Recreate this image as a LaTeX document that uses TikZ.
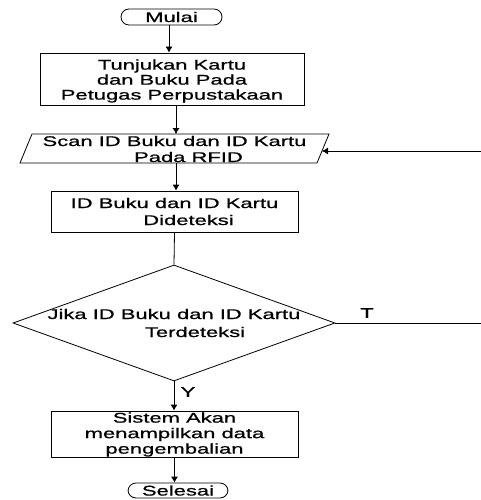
\documentclass[tikz,border=0pt]{standalone}
\usepackage{fontspec}
\setmainfont[FakeStretch=1.57,FakeBold=0.8]{Liberation Sans}
\usetikzlibrary{shapes.geometric,arrows.meta}
\begin{document}
\begin{tikzpicture}[x=1pt,y=-1pt,
  every node/.style={font=\fontsize{14}{15.5}\selectfont, align=center},
  line/.style={draw, line width=0.8pt},
  arr/.style={line, -{Latex[length=6pt,width=7pt]}},
  term/.style={draw, line width=0.8pt, rounded corners=8pt, inner sep=0pt},
  procbox/.style={draw, line width=0.8pt, inner sep=0pt},
  lbl/.style={font=\fontsize{14}{15}\selectfont}]
\useasboundingbox (0,0) rectangle (480,500);

\node[term, minimum width=101pt, minimum height=16pt] (m) at (171.5,17) {Mulai};
\node[procbox, minimum width=264pt, minimum height=52pt] (b1) at (172,79) {};
\node[font=\fontsize{14}{15}\selectfont] (b1t) at (172,81)
  {Tunjukan Kartu\\dan Buku Pada\\Petugas Perpustakaan};

% parallelogram (input)
\coordinate (pTL) at (32,134);
\coordinate (pTR) at (329,134);
\coordinate (pBR) at (317,163);
\coordinate (pBL) at (20,163);
\coordinate (pN) at (176,134);
\coordinate (pS) at (176,163);
\coordinate (pE) at (322,151);
\draw[line] (pTL) -- (pTR) -- (pBR) -- (pBL) -- cycle;
\node[font=\fontsize{14}{16}\selectfont] (p) at (174.5,149)
  {Scan ID Buku dan ID Kartu\\\hspace*{28pt}Pada RFID};

\node[procbox, minimum width=247pt, minimum height=41pt] (b2) at (174.5,211.5)
  {};
\node[font=\fontsize{14}{17}\selectfont] (b2t) at (b2.center)
  {ID Buku dan ID Kartu\\\hspace*{28pt}Dideteksi};
\node[draw, line width=0.8pt, diamond, aspect=2.78, minimum width=322pt, minimum height=116pt,
  inner sep=0pt] (d) at (174,323) {};
\node[font=\fontsize{14}{18}\selectfont] (dt) at (d.center)
  {Jika ID Buku dan ID Kartu\\\hspace*{42pt}Terdeteksi};
\node[procbox, minimum width=247pt, minimum height=46pt] (b3) at (174.5,434) {};
\node[font=\fontsize{14}{15.5}\selectfont] (b3t) at (174.5,434.5)
  {Sistem Akan\\menampilkan data\\pengembalian};
\node[term, minimum width=100pt, minimum height=15pt] (s) at (178,490.5) {Selesai};

\coordinate (r1) at (484,323);

\draw[arr] (m.south -| 169,0) -- (169,0 |- b1.north);
\draw[arr] (pN |- b1.south) -- (pN);
\draw[arr] (pS) -- (pS |- b2.north);
\draw[line] (b2.south) -- (d.north);
\draw[arr] (d.south) -- (d.south |- b3.north);
\draw[arr] (b3.south) -- (b3.south |- s.north);
\draw[arr] (d.east) -- (r1) |- (pE);

\node[lbl] (tl) at (367,313) {T};
\node[lbl] (yl) at (188,392) {Y};
\end{tikzpicture}
\end{document}
